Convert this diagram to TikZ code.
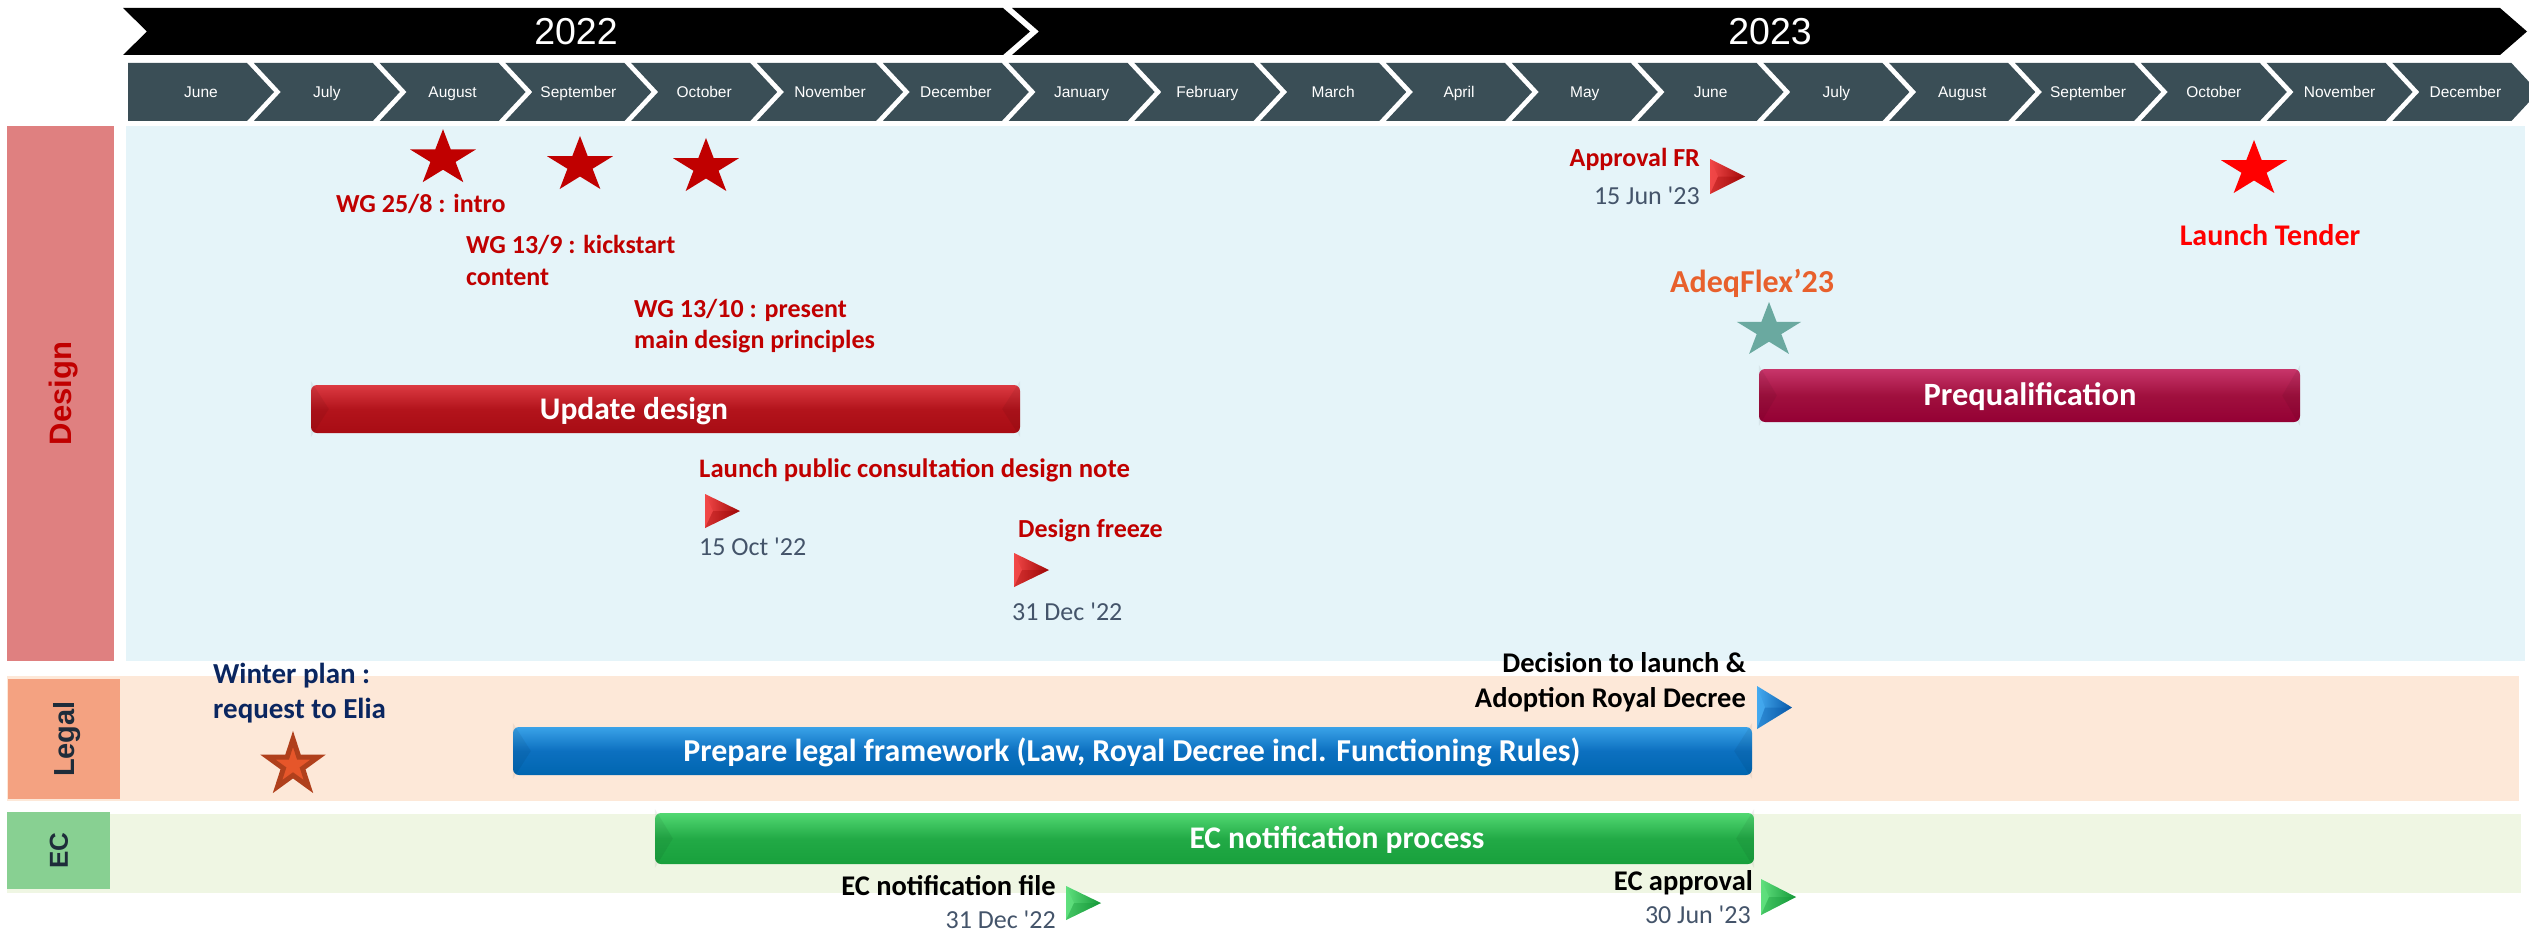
\documentclass[tikz,border=0pt]{standalone}
\usepackage{fontspec}
\setmainfont{Carlito}
\newfontfamily\arialf{Liberation Sans}
\usetikzlibrary{shapes.geometric}

% palette
\definecolor{dred}{HTML}{C00000}
\definecolor{tred}{HTML}{FF0000}
\definecolor{slate}{HTML}{3A4E56}
\definecolor{designlbl}{HTML}{DF8080}
\definecolor{designband}{HTML}{E5F4F9}
\definecolor{legalband}{HTML}{FDE8D8}
\definecolor{legallbl}{HTML}{F4A281}
\definecolor{ecband}{HTML}{EFF6E3}
\definecolor{eclbl}{HTML}{88D092}
\definecolor{lanetext}{HTML}{1E2C3A}
\definecolor{navy}{HTML}{0A2660}
\definecolor{dategray}{HTML}{44546A}
\definecolor{adq}{HTML}{E8602C}
\definecolor{tealstar}{HTML}{6AA9A0}
\definecolor{ostarF}{HTML}{E6562A}
\definecolor{ostarD}{HTML}{B0401C}
\definecolor{updT}{HTML}{DC3A42}
\definecolor{updM}{HTML}{B3141C}
\definecolor{updB}{HTML}{A80C14}
\definecolor{prqT}{HTML}{C8356A}
\definecolor{prqM}{HTML}{A0103E}
\definecolor{prqB}{HTML}{940034}
\definecolor{legT}{HTML}{3AA2E8}
\definecolor{legM}{HTML}{0C70C0}
\definecolor{legB}{HTML}{0066B0}
\definecolor{ecT}{HTML}{52D872}
\definecolor{ecM}{HTML}{22AA46}
\definecolor{ecB}{HTML}{18A03C}
\definecolor{mredL}{HTML}{F24848}
\definecolor{mredD}{HTML}{A00808}
\definecolor{mbluL}{HTML}{44AAF0}
\definecolor{mbluD}{HTML}{0858A8}
\definecolor{mgrnL}{HTML}{60E07E}
\definecolor{mgrnD}{HTML}{149838}

% two-line labels, baseline on the first line
\newcommand\linesL[3]{\vtop{\baselineskip=#1pt\hbox{#2}\hbox{#3}}}
\newcommand\linesR[3]{\vtop{\baselineskip=#1pt\halign{\hfil##\cr#2\cr#3\cr}}}

\tikzset{
  redlbl/.style={inner sep=0, font=\fontsize{26}{31}\selectfont\bfseries, text=dred},
  blklbl/.style={inner sep=0, font=\fontsize{28.5}{34}\selectfont\bfseries, text=black},
  navylbl/.style={inner sep=0, font=\fontsize{29}{34}\selectfont\bfseries, text=navy},
  datelbl/.style={inner sep=0, font=\fontsize{26}{31}\selectfont, text=dategray},
  barlbl/.style={inner sep=0, font=\fontsize{31.5}{36}\selectfont\bfseries, text=white,
    text height=20.3pt, text depth=0pt},
  bar/.style={rectangle, rounded corners=6pt, inner sep=0, draw=none},
  bevel/.style={fill=black, opacity=.06},
  mstar/.style={star, star points=5, star point ratio=2.618, inner sep=0,
    minimum size=#1},
  monthlbl/.style={inner sep=0, font=\arialf\fontsize{15.5}{18}\selectfont, text=white,
    text height=11.1pt, text depth=0pt},
  yearlbl/.style={inner sep=0, font=\arialf\fontsize{37.5}{44}\selectfont, text=white},
  lanelbl/.style={inner sep=0, rotate=90, text=#1, text depth=0pt},
  pics/marker/.style n args={3}{code={
    \path[left color=#2, right color=#3] (0,-#1) -- (35,0) -- (0,#1) -- cycle;
    \path[fill=#2, opacity=.7] (0,-#1) -- (8,0) -- (0,#1) -- cycle;
    \path[fill=#3, opacity=.35] (0,#1) -- (8,0) -- (35,0) -- cycle;
  }}
}

% bevelled ends of an activity bar
\newcommand\barbevel[1]{%
  \path[bevel] ([yshift=4pt]#1.north west) -- ([xshift=18pt]#1.west) -- ([yshift=-4pt]#1.south west) -- cycle;
  \path[bevel] ([yshift=4pt]#1.north east) -- ([xshift=-18pt]#1.east) -- ([yshift=-4pt]#1.south east) -- cycle;}

\begin{document}
\begin{tikzpicture}[x=1pt, y=-1pt]
\useasboundingbox (0,0) rectangle (2529,931);

% ---- year banners ----
\fill[black] (123,8) -- (1003,8) -- (1030,31.5) -- (1003,55) -- (123,55) -- (147,31.5) -- cycle;
\fill[black] (1012,8) -- (2500,8) -- (2527,31.5) -- (2500,55) -- (1012,55) -- (1039,31.5) -- cycle;
\node[yearlbl] (y22) at (576,31.5) {2022};
\node[yearlbl] (y23) at (1770,31.5) {2023};

% ---- month chevrons ----
\foreach \m [count=\i from 0] in {June,July,August,September,October,November,December,
  January,February,March,April,May,June,July,August,September,October,November,December}{
  \pgfmathsetmacro\c{201+125.8*\i}
  \ifnum\i=0
    \fill[slate] ({\c-73},63) -- ({\c+46},63) -- ({\c+73},92) -- ({\c+46},121) -- ({\c-73},121) -- cycle;
  \else
    \fill[slate] ({\c-73},63) -- ({\c+46},63) -- ({\c+73},92) -- ({\c+46},121) -- ({\c-73},121) -- ({\c-46},92) -- cycle;
  \fi
  \node[monthlbl] (mo\i) at (\c,92) {\m};
}

% ---- swim lanes ----
\fill[designband] (126,126) rectangle (2525,661);
\fill[designlbl] (7,126) rectangle (114,661);
\node[lanelbl=dred, font=\arialf\bfseries\fontsize{31}{36}\selectfont, text height=22.2pt] (lnD) at (60.5,393.5) {Design};

\fill[legalband] (7,676) rectangle (2519,801);
\fill[legallbl] (8,679) rectangle (120,799);
\node[lanelbl=lanetext, font=\arialf\bfseries\fontsize{29}{34}\selectfont, text height=20.8pt] (lnL) at (64,739) {Legal};

\fill[ecband] (7,814) rectangle (2521,893);
\fill[eclbl] (7,812) rectangle (110,889);
\node[lanelbl=lanetext, font=\arialf\bfseries\fontsize{26}{31}\selectfont, text height=18.6pt] (lnE) at (58.5,850.5) {EC};

% ---- activity bars ----
\node[bar, minimum width=709pt, minimum height=48pt, top color=updT, bottom color=updB, middle color=updM] (updbar) at (665.5,409) {};
\barbevel{updbar}
\node[barlbl] (updtxt) at (634,409) {Update design};

\node[bar, minimum width=541pt, minimum height=53pt, top color=prqT, bottom color=prqB, middle color=prqM] (prqbar) at (2029.5,395.5) {};
\barbevel{prqbar}
\node[barlbl, font=\fontsize{32.5}{37}\selectfont\bfseries, text height=20.9pt] (prqtxt) at (2030,395.5) {Prequalification};

\node[bar, minimum width=1239pt, minimum height=48pt, top color=legT, bottom color=legB, middle color=legM] (legbar) at (1132.5,751) {};
\barbevel{legbar}
\node[barlbl, font=\fontsize{31.9}{36}\selectfont\bfseries, text height=20.5pt] (legtxt) at (1132,751) {Prepare legal framework (Law, Royal Decree incl. Functioning Rules)};

\node[bar, minimum width=1099pt, minimum height=51pt, top color=ecT, bottom color=ecB, middle color=ecM] (ecbar) at (1204.5,838.5) {};
\barbevel{ecbar}
\node[barlbl] (ectxt) at (1337,838.5) {EC notification process};

% ---- star milestones ----
\node[mstar=58.6pt, fill=dred, xscale=1.18] (st1) at (443,158.5) {};
\node[mstar=58.6pt, fill=dred, xscale=1.18] (st2) at (580,165.3) {};
\node[mstar=58.6pt, fill=dred, xscale=1.18] (st3) at (706,167.3) {};
\node[mstar=57.4pt, fill=tealstar, xscale=1.18] (st4) at (1769,330.7) {};
\node[mstar=58.6pt, fill=tred, xscale=1.18] (st5) at (2254,169.3) {};
\node[mstar=52.6pt, fill=ostarF, draw=ostarD, line width=5pt] (st6) at (293,765.3) {};

% ---- dated milestones ----
\pic (mk1) at (705,511) {marker={17}{mredL}{mredD}};
\pic (mk2) at (1014,570) {marker={17}{mredL}{mredD}};
\pic (mk3) at (1710,176.5) {marker={17.5}{mredL}{mredD}};
\pic (mk4) at (1757,707.5) {marker={21.5}{mbluL}{mbluD}};
\pic (mk5) at (1066,903) {marker={17}{mgrnL}{mgrnD}};
\pic (mk6) at (1761,897) {marker={18}{mgrnL}{mgrnD}};

% ---- labels ----
\node[redlbl, anchor=base west] (l1) at (336,212) {WG 25/8 : intro};
\node[redlbl, anchor=base west] (l2) at (466,253) {\linesL{32}{WG 13/9 : kickstart}{content}};
\node[redlbl, anchor=base west] (l3) at (634,317) {\linesL{31}{WG 13/10 : present}{main design principles}};
\node[redlbl, font=\fontsize{26.7}{31}\selectfont\bfseries, anchor=base west] (l4) at (699,477) {Launch public consultation design note};
\node[datelbl, anchor=base west] (d1) at (699,555) {15 Oct \textquotesingle22};
\node[redlbl, anchor=base west] (l5) at (1018,537) {Design freeze};
\node[datelbl, anchor=base west] (d2) at (1012,620) {31 Dec \textquotesingle22};
\node[redlbl, anchor=base east] (l6) at (1700,166) {Approval FR};
\node[datelbl, anchor=base east] (d3) at (1700,204) {15 Jun \textquotesingle23};
\node[inner sep=0, font=\fontsize{32}{38}\selectfont\bfseries, text=adq, anchor=base west] (l7) at (1670,292) {AdeqFlex’23};
\node[inner sep=0, font=\fontsize{30}{36}\selectfont\bfseries, text=tred, anchor=base] (l8) at (2270,245) {Launch Tender};
\node[navylbl, anchor=base west] (l9) at (213,683) {\linesL{35}{Winter plan :}{request to Elia}};
\node[blklbl, anchor=base east] (l10) at (1746,672) {\linesR{35}{Decision to launch \&}{Adoption Royal Decree}};
\node[blklbl, anchor=base east] (l11) at (1056,895) {EC notification file};
\node[datelbl, anchor=base east] (d4) at (1056,928) {31 Dec \textquotesingle22};
\node[blklbl, anchor=base east] (l12) at (1753,890) {EC approval};
\node[datelbl, anchor=base east] (d5) at (1751,923) {30 Jun \textquotesingle23};
\end{tikzpicture}
\end{document}
